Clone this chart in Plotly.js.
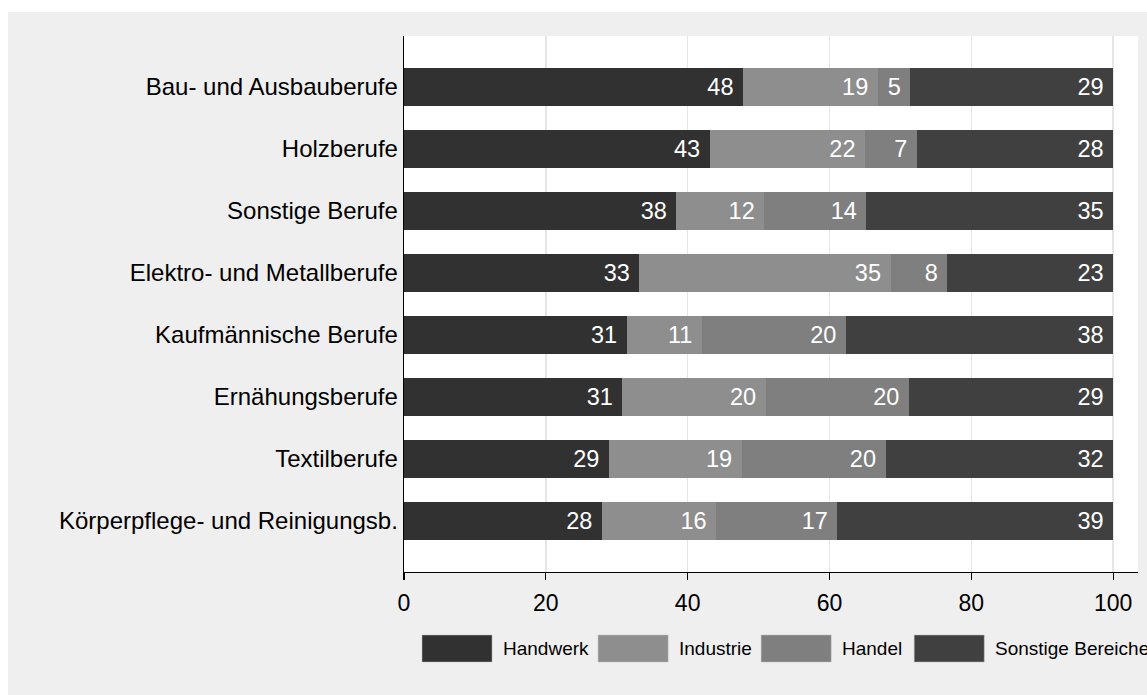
<!DOCTYPE html>
<html>
<head>
<meta charset="utf-8">
<script src="https://cdn.plot.ly/plotly-3.0.1.min.js"></script>
<style>
  html, body { margin: 0; padding: 0; background: #ffffff; width: 1147px; height: 695px; overflow: hidden; }
  #chart { position: absolute; left: 8px; top: 12px; width: 1139px; height: 683px; }
</style>
</head>
<body>
<div id="chart"></div>
<script>
// Categories (top to bottom)
const categories = [
  "Bau- und Ausbauberufe",
  "Holzberufe",
  "Sonstige Berufe",
  "Elektro- und Metallberufe",
  "Kaufmännische Berufe",
  "Ernähungsberufe",
  "Textilberufe",
  "Körperpflege- und Reinigungsb."
];
const seriesNames = ["Handwerk", "Industrie", "Handel", "Sonstige Bereiche"];
// Shares in percent
const handwerk = [47.8, 43.1, 38.4, 33.2, 31.4, 30.8, 28.9, 27.9];
const industrie = [19.0, 21.9, 12.4, 35.4, 10.6, 20.2, 18.7, 16.1];
const handel = [4.6, 7.3, 14.4, 8.0, 20.3, 20.2, 20.3, 17.1];
const sonstige = [28.6, 27.7, 34.8, 23.4, 37.7, 28.8, 32.1, 38.9];
const xTicks = [0, 20, 40, 60, 80, 100];

const colors = ["#313131", "#8e8e8e", "#7f7f7f", "#404040"];
const seriesValues = [handwerk, industrie, handel, sonstige];
const FONT = "Liberation Sans, Arial, Helvetica, sans-serif";

const traces = seriesValues.map((vals, i) => ({
  type: "bar",
  orientation: "h",
  name: seriesNames[i],
  y: categories,
  x: vals,
  marker: { color: colors[i], line: { width: 0 } },
  texttemplate: "%{x:.0f}\u2008",
  textposition: "inside",
  insidetextanchor: "end",
  constraintext: "none",
  textfont: { color: "#ffffff", size: 23.5, family: FONT },
  showlegend: false,
  hoverinfo: "x+y+name"
}));

// Legend drawn as large swatches (paper coords relative to plot area)
const plotL = 404, plotR = 1137.7, plotT = 36, plotB = 572;
const px = v => (v - plotL) / (plotR - plotL);
const py = v => (plotB - v) / (plotB - plotT);
const swatchLeft = [422, 598, 761, 914];
const swatchW = 70;
const shapes = [];
const annotations = [];
seriesNames.forEach((n, i) => {
  shapes.push({
    type: "rect", xref: "paper", yref: "paper",
    x0: px(swatchLeft[i]), x1: px(swatchLeft[i] + swatchW),
    y0: py(662), y1: py(635),
    fillcolor: colors[i], line: { width: 0.5, color: "#bdbdbd" }
  });
  annotations.push({
    xref: "paper", yref: "paper",
    x: px(swatchLeft[i] + swatchW + 9), y: py(648.5),
    xanchor: "left", yanchor: "middle",
    text: n, showarrow: false,
    font: { family: FONT, size: 19, color: "#000000" }
  });
});

const layout = {
  barmode: "stack",
  bargap: 0.387,
  paper_bgcolor: "#efefef",
  plot_bgcolor: "#ffffff",
  margin: { l: 396, r: 9, t: 24, b: 123, pad: 0 },
  font: { family: FONT, size: 24, color: "#000000" },
  showlegend: false,
  xaxis: {
    range: [0, 103.5],
    tickvals: xTicks,
    ticktext: xTicks.map(String),
    ticks: "outside",
    ticklen: 7,
    tickwidth: 1.3,
    tickcolor: "#000000",
    ticklabelstandoff: 3,
    showline: true,
    linecolor: "#000000",
    linewidth: 1.3,
    showgrid: true,
    gridcolor: "#e6e6e6",
    gridwidth: 1.5,
    zeroline: false,
    tickfont: { family: FONT, size: 23, color: "#000000" },
    fixedrange: true
  },
  yaxis: {
    type: "category",
    categoryorder: "array",
    categoryarray: categories,
    range: [7.823, -0.823],
    ticks: "",
    showline: true,
    linecolor: "#000000",
    linewidth: 1.3,
    showgrid: false,
    zeroline: false,
    tickfont: { family: FONT, size: 24, color: "#000000" },
    fixedrange: true
  },
  shapes: shapes,
  annotations: annotations
};

Plotly.newPlot("chart", traces, layout, { displayModeBar: false, staticPlot: true });
</script>
</body>
</html>
